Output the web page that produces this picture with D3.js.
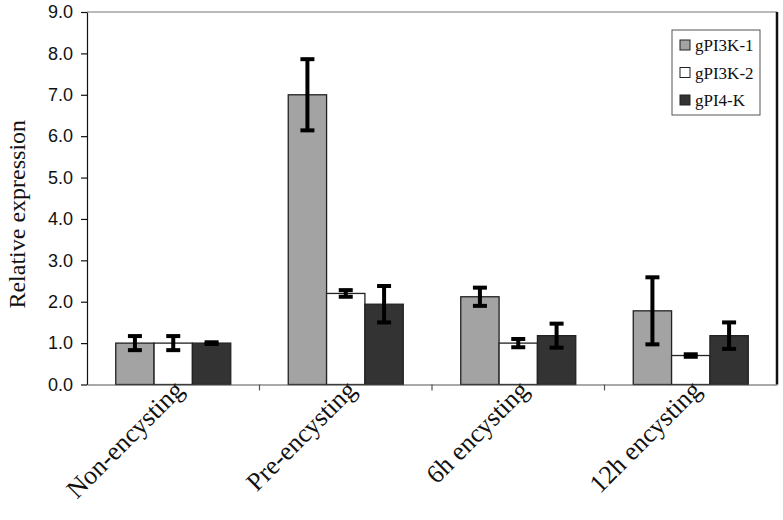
<!DOCTYPE html>
<html>
<head>
<meta charset="utf-8">
<script src="https://cdn.jsdelivr.net/npm/d3@7"></script>
<style>
  body { margin: 0; background: #fff; }
  svg { display: block; }
</style>
</head>
<body>
<div id="chart"></div>
<script>
"use strict";

// data
const categories = ["Non-encysting", "Pre-encysting", "6h encysting", "12h encysting"];
const seriesNames = ["gPI3K-1", "gPI3K-2", "gPI4-K"];
const seriesColors = ["#a3a3a3", "#ffffff", "#333333"];
const gPI3K1 = [1.0, 7.0, 2.12, 1.78];
const gPI3K1Err = [0.17, 0.86, 0.22, 0.81];
const gPI3K2 = [1.0, 2.2, 1.0, 0.7];
const gPI3K2Err = [0.17, 0.08, 0.1, 0.03];
const gPI4K = [1.0, 1.94, 1.18, 1.18];
const gPI4KErr = [0.02, 0.44, 0.29, 0.32];
const yTicks = [0, 1, 2, 3, 4, 5, 6, 7, 8, 9];

const values = [gPI3K1, gPI3K2, gPI4K];
const errors = [gPI3K1Err, gPI3K2Err, gPI4KErr];

const width = 783, height = 520;
const plot = { left: 87, top: 12, right: 777, bottom: 384.5 };

const svg = d3.select("#chart").append("svg")
  .attr("width", width)
  .attr("height", height);

const x0 = d3.scaleBand()
  .domain(categories)
  .range([plot.left, plot.right])
  .padding(0);

// excel style: gap width 150% of a bar
const x1 = d3.scaleBand()
  .domain(seriesNames)
  .range([0, x0.bandwidth()])
  .paddingInner(0)
  .paddingOuter(0.75);

const y = d3.scaleLinear()
  .domain([0, 9])
  .range([plot.bottom, plot.top]);

// plot frame, top and right
svg.append("line")
  .attr("x1", plot.left).attr("x2", plot.right)
  .attr("y1", plot.top).attr("y2", plot.top)
  .attr("stroke", "#777").attr("stroke-width", 1.2);
svg.append("line")
  .attr("x1", plot.right).attr("x2", plot.right)
  .attr("y1", plot.top).attr("y2", plot.bottom)
  .attr("stroke", "#111").attr("stroke-width", 2.5);

// bars
const rows = [];
categories.forEach(function(c, i) {
  seriesNames.forEach(function(s, j) {
    rows.push({ cat: c, series: s, idx: j, value: values[j][i], err: errors[j][i] });
  });
});

svg.append("g")
  .selectAll("rect")
  .data(rows)
  .join("rect")
  .attr("x", d => x0(d.cat) + x1(d.series))
  .attr("y", d => y(d.value))
  .attr("width", x1.bandwidth())
  .attr("height", d => y(0) - y(d.value))
  .attr("fill", d => seriesColors[d.idx])
  .attr("stroke", "#222")
  .attr("stroke-width", 1.3);

// error bars
const eb = svg.append("g")
  .selectAll("g")
  .data(rows)
  .join("g")
  .attr("transform", d => "translate(" + (x0(d.cat) + x1(d.series) + x1.bandwidth() / 2) + ",0)");

eb.append("line")
  .attr("y1", d => y(d.value + d.err))
  .attr("y2", d => y(d.value - d.err))
  .attr("stroke", "#000")
  .attr("stroke-width", 4);
eb.append("line")
  .attr("x1", -7).attr("x2", 7)
  .attr("y1", d => y(d.value + d.err))
  .attr("y2", d => y(d.value + d.err))
  .attr("stroke", "#000")
  .attr("stroke-width", 4);
eb.append("line")
  .attr("x1", -7).attr("x2", 7)
  .attr("y1", d => y(d.value - d.err))
  .attr("y2", d => y(d.value - d.err))
  .attr("stroke", "#000")
  .attr("stroke-width", 4);

// y axis
const yAxis = svg.append("g")
  .attr("transform", "translate(" + plot.left + ",0)")
  .call(d3.axisLeft(y).tickValues(yTicks).tickFormat(d3.format(".1f")).tickSize(6).tickSizeOuter(0));
yAxis.select(".domain").attr("stroke", "#111").attr("stroke-width", 1.2);
yAxis.selectAll(".tick line").attr("stroke", "#111").attr("stroke-width", 1.2);
yAxis.selectAll(".tick text")
  .attr("x", -14)
  .attr("fill", "#111")
  .style("font-family", "'Liberation Sans', Arial, sans-serif")
  .style("font-size", "18px");

// x axis
const xAxis = svg.append("g")
  .attr("transform", "translate(0," + plot.bottom + ")")
  .call(d3.axisBottom(x0).tickSize(0).tickSizeOuter(0).tickFormat(""));
xAxis.select(".domain").attr("stroke", "#555").attr("stroke-width", 1.2);
xAxis.selectAll(".tick").remove();

// category separators
svg.append("g")
  .selectAll("line")
  .data(categories.slice(1))
  .join("line")
  .attr("x1", d => x0(d)).attr("x2", d => x0(d))
  .attr("y1", plot.bottom).attr("y2", plot.bottom + 6)
  .attr("stroke", "#555").attr("stroke-width", 1.2);

// category labels, rotated
svg.append("g")
  .selectAll("text")
  .data(categories)
  .join("text")
  .attr("transform", d => "translate(" + (x0(d) + x0.bandwidth() / 2 + 12) + "," + (plot.bottom + 7) + ") rotate(-45)")
  .attr("text-anchor", "end")
  .attr("fill", "#111")
  .style("font-family", "'Liberation Serif', 'Times New Roman', serif")
  .style("font-size", "26px")
  .text(d => d);

// y title
svg.append("text")
  .attr("transform", "translate(25," + ((plot.top + plot.bottom) / 2 + 16) + ") rotate(-90)")
  .attr("text-anchor", "middle")
  .attr("fill", "#111")
  .style("font-family", "'Liberation Serif', 'Times New Roman', serif")
  .style("font-size", "24px")
  .text("Relative expression");

// legend
const legend = svg.append("g").attr("transform", "translate(672,30)");
legend.append("rect")
  .attr("width", 88).attr("height", 85)
  .attr("fill", "#fff")
  .attr("stroke", "#555").attr("stroke-width", 1);
const li = legend.selectAll("g.item")
  .data(seriesNames)
  .join("g")
  .attr("class", "item")
  .attr("transform", (d, i) => "translate(8," + (15 + i * 27.5) + ")");
li.append("rect")
  .attr("x", 0).attr("y", -5)
  .attr("width", 10).attr("height", 10)
  .attr("fill", (d, i) => seriesColors[i])
  .attr("stroke", "#222").attr("stroke-width", 1);
li.append("text")
  .attr("x", 15).attr("y", 6)
  .attr("fill", "#111")
  .style("font-family", "'Liberation Serif', 'Times New Roman', serif")
  .style("font-size", "17px")
  .text(d => d);
</script>
</body>
</html>
